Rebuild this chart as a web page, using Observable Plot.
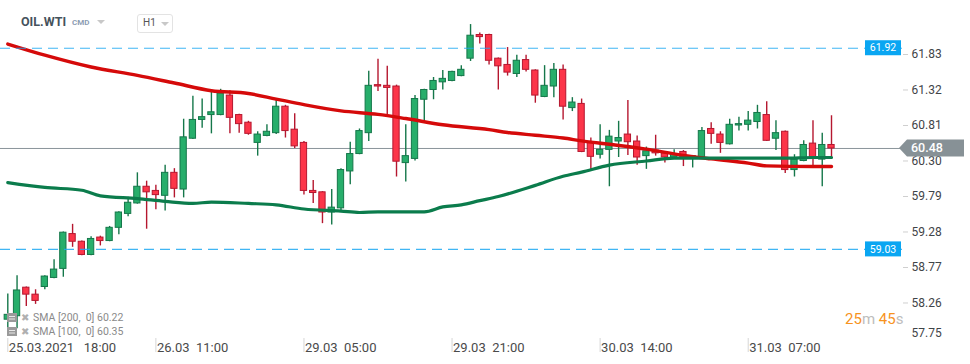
<!DOCTYPE html>
<html>
<head>
<meta charset="utf-8">
<script src="https://cdn.jsdelivr.net/npm/d3@7"></script>
<script src="https://cdn.jsdelivr.net/npm/@observablehq/plot@0.6"></script>
<style>
  html, body { margin: 0; padding: 0; background: #fff; }
  #wrap { position: relative; width: 970px; height: 364px; overflow: hidden; font-family: Roboto, sans-serif; }
  #chart { position: absolute; left: 0; top: 0; }
  .ov { position: absolute; white-space: pre; }
  .tri { position: absolute; width: 0; height: 0; border-left: 4px solid transparent; border-right: 4px solid transparent; border-top: 4px solid #c8c8c8; }
</style>
</head>
<body>
<div id="wrap">
  <div id="chart"></div>
  <div class="ov" style="left:21px;top:14px;font-weight:bold;font-size:12.5px;color:#46525c;">OIL.WTI</div>
  <div class="ov" style="left:72px;top:18px;font-weight:bold;font-size:8px;color:#8c9db3;">CMD</div>
  <div class="tri" style="left:97px;top:20px;"></div>
  <div class="ov" style="left:137px;top:14px;width:34px;height:17px;border:1px solid #e3e3e3;border-radius:3px;"></div>
  <div class="ov" style="left:143px;top:17px;font-size:10px;color:#555;">H1</div>
  <div class="tri" style="left:161px;top:22px;"></div>
  <div class="ov" id="leg1" style="left:7px;top:311px;font-size:10.5px;color:#8a8a8a;"></div>
  <div class="ov" id="leg2" style="left:7px;top:325px;font-size:10.5px;color:#8a8a8a;"></div>
  <div class="ov" style="left:845px;top:310px;font-size:15px;"><span style="color:#f7931e">25</span><span style="color:#bdbdbd">m </span><span style="color:#f7931e">45</span><span style="color:#bdbdbd">s</span></div>
</div>
<script>
// ---- data ----
const opens  = [58.02,58.07,58.48,58.38,58.49,58.62,58.75,59.25,59.14,58.95,59.20,59.15,59.34,59.54,59.69,59.93,59.87,59.80,60.13,59.89,
                60.62,60.89,60.96,60.96,61.24,60.96,60.85,60.56,60.66,60.70,61.08,60.75,60.56,59.87,59.85,59.56,59.62,60.15,60.40,60.70,
                61.39,61.38,61.37,60.27,60.33,61.18,61.32,61.43,61.45,61.52,61.77,62.11,62.11,61.77,61.68,61.55,61.75,61.60,61.22,61.37,
                61.61,61.06,61.12,60.57,60.39,60.46,60.58,60.68,60.58,60.37,60.45,60.41,60.35,60.43,60.33,60.35,60.76,60.68,60.54,60.81,
                60.82,60.86,60.96,60.62,60.72,60.17,60.30,60.55,60.32,60.53];
const highs  = [58.39,58.65,58.49,58.45,58.65,58.88,59.28,59.39,59.15,59.21,59.22,59.36,59.57,59.78,60.13,60.01,59.95,60.24,60.19,60.90,
                61.23,61.19,61.31,61.33,61.31,60.97,60.87,60.72,60.82,61.17,61.10,60.98,60.58,60.02,59.86,59.89,60.19,60.57,60.76,61.59,
                61.76,61.66,61.39,60.82,61.24,61.33,61.50,61.60,61.59,61.67,62.26,62.14,62.12,61.78,61.93,61.82,61.82,61.61,61.67,61.70,
                61.68,61.21,61.19,60.63,60.82,60.74,60.87,61.17,60.66,60.50,60.67,60.42,60.46,60.45,60.38,60.78,60.85,60.72,60.90,60.93,
                61.01,61.10,61.15,60.88,60.73,60.39,60.59,60.88,60.70,60.95];
const lows   = [57.82,57.89,58.21,58.24,58.45,58.61,58.63,59.06,58.94,58.94,59.08,59.14,59.24,59.50,59.68,59.32,59.60,59.58,59.77,59.77,
                60.61,60.77,60.69,60.95,60.69,60.70,60.67,60.37,60.65,60.68,60.63,60.48,59.81,59.69,59.40,59.38,59.59,59.96,60.39,60.58,
                61.30,60.95,60.07,60.00,60.30,60.84,61.18,61.32,61.44,61.51,61.73,61.98,61.68,61.32,61.52,61.50,61.58,61.13,61.21,61.21,
                60.89,61.01,60.42,60.17,60.33,59.93,60.35,60.38,60.24,60.18,60.37,60.27,60.32,60.22,60.20,60.34,60.54,60.41,60.53,60.73,
                60.73,60.76,60.58,60.45,60.12,60.07,60.29,60.22,59.93,60.35];
const closes = [58.09,58.44,58.38,58.29,58.64,58.74,59.27,59.14,58.95,59.18,59.15,59.34,59.56,59.70,59.93,59.85,59.81,60.13,59.90,60.64,
                60.89,60.93,61.00,61.27,60.92,60.83,60.69,60.68,60.72,61.08,60.73,60.51,59.87,59.84,59.56,59.63,60.17,60.40,60.73,61.38,
                61.37,61.35,60.29,60.37,61.19,61.32,61.45,61.48,61.58,61.61,62.10,62.08,61.74,61.66,61.57,61.74,61.61,61.24,61.38,61.61,
                61.08,61.14,60.43,60.36,60.46,60.65,60.63,60.57,60.35,60.44,60.41,60.35,60.39,60.35,60.37,60.73,60.69,60.56,60.82,60.83,
                60.88,60.99,60.59,60.70,60.17,60.32,60.53,60.33,60.53,60.48];

// SMA lines (values read at these bar positions)
const sma200Idx = [0,4,9,14,18,22,26,29,32,36,40,43,47,52,54,57,60,62,65,69,73,76,80,82,87,89];
const sma200    = [61.98,61.82,61.65,61.53,61.42,61.31,61.27,61.19,61.11,61.02,60.97,60.91,60.82,60.75,60.71,60.67,60.63,60.59,60.54,60.47,60.38,60.33,60.27,60.23,60.22,60.22];
const sma100Idx = [0,4,8,10,14,17,20,22,26,29,32,36,38,40,45,47,49,51,53,57,60,62,65,69,72,76,80,84,87,89];
const sma100    = [59.99,59.92,59.88,59.80,59.76,59.72,59.69,59.71,59.69,59.67,59.61,59.58,59.56,59.57,59.57,59.64,59.67,59.73,59.79,59.95,60.08,60.14,60.24,60.30,60.34,60.34,60.34,60.34,60.35,60.35];

const yTicks = [57.75,58.26,58.77,59.28,59.79,60.30,60.81,61.32,61.83];
const xTickIdx = [0,16,32,48,64,80];
const xTickLabels = ["25.03.2021\u00a0\u00a0 18:00","26.03\u00a0 11:00","29.03\u00a0 05:00","29.03\u00a0 21:00","30.03\u00a0 14:00","31.03\u00a0 07:00"];
const levelValues = [61.92, 59.03];
const currentPrice = 60.48;
const legendRows = [["SMA [200,  0]", "60.22"], ["SMA [100,  0]", "60.35"]];

// ---- build ----
const candles = opens.map((o, i) => ({i, o, h: highs[i], l: lows[i], c: closes[i], up: closes[i] >= o}));
const s200 = sma200Idx.map((i, k) => ({i, v: sma200[k]}));
const s100 = sma100Idx.map((i, k) => ({i, v: sma100[k]}));

const GREEN_F = "#27ae6b", GREEN_S = "#15774a", RED_F = "#fc3549", RED_S = "#b5172f";

function priceLabels(index, scales, values, dims) {
  const g = d3.create("svg:g").attr("font-family", "Roboto, sans-serif");
  const right = dims.width - dims.marginRight;
  for (const v of levelValues) {
    const y = scales.y(v);
    g.append("rect").attr("x", right - 37).attr("y", y - 7.5).attr("width", 36).attr("height", 15).attr("fill", "#0aa6f2");
    g.append("text").attr("x", right - 19).attr("y", y).attr("dy", "0.35em").attr("text-anchor", "middle")
      .attr("fill", "#fff").attr("font-size", 10.5).text(v.toFixed(2));
  }
  const y = scales.y(currentPrice);
  const pts = [[right - 3, y], [right + 5, y - 8.5], [right + 62, y - 8.5], [right + 62, y + 8.5], [right + 5, y + 8.5]];
  g.append("polygon").attr("points", pts.map(p => p.join(",")).join(" ")).attr("fill", "#879196");
  g.append("text").attr("x", right + 9).attr("y", y).attr("dy", "0.36em").attr("text-anchor", "start").attr("fill", "#fff")
    .attr("font-size", 12.5).attr("font-weight", 500).text(currentPrice.toFixed(2));
  return g.node();
}

const chart = Plot.plot({
  width: 970,
  height: 364,
  marginLeft: 0, marginTop: 0, marginRight: 68, marginBottom: 26,
  x: {type: "linear", domain: [0, 89], range: [7.3, 831], axis: null, label: null},
  y: {domain: [57.75, 62.6], range: [338, 0.4], axis: null, label: null},
  style: {fontFamily: "Roboto, sans-serif", background: "#fff", overflow: "visible"},
  marks: [
    Plot.ruleY([currentPrice], {stroke: "#8a959b", strokeWidth: 1}),
    Plot.ruleX(candles, {x: "i", y1: "l", y2: "h", stroke: d => d.up ? GREEN_S : RED_S, strokeWidth: 1.4}),
    Plot.rect(candles, {x1: d => d.i - 0.34, x2: d => d.i + 0.34, y1: "o", y2: "c",
      fill: d => d.up ? GREEN_F : RED_F, stroke: d => d.up ? GREEN_S : RED_S, strokeWidth: 1}),
    Plot.line(s200, {x: "i", y: "v", stroke: "#d50a0a", strokeWidth: 3.4, curve: "monotone-x", strokeLinejoin: "round"}),
    Plot.line(s100, {x: "i", y: "v", stroke: "#0b7c4c", strokeWidth: 3.2, curve: "monotone-x", strokeLinejoin: "round"}),
    Plot.ruleY(levelValues, {stroke: "#1fa9f2", strokeWidth: 1.2, strokeDasharray: "10,6", strokeOpacity: 0.85}),
    Plot.axisY(yTicks.filter(t => t > 58), {anchor: "right", tickSize: 5, tickPadding: 4, tickFormat: d3.format(".2f"),
      fontSize: 12, fill: "#3f4448", stroke: "#cfcfcf", label: null}),
    Plot.text([yTicks[0]], {y: d => d, frameAnchor: "right", dx: 9, dy: -5, textAnchor: "start",
      text: d => d.toFixed(2), fontSize: 12, fill: "#3f4448"}),
    Plot.axisX(xTickIdx, {anchor: "bottom", tickSize: 14, tickFormat: () => "", stroke: "#d6d6d6", label: null}),
    Plot.text(xTickIdx, {x: d => d, frameAnchor: "bottom", dy: 9, dx: 1, textAnchor: "start", lineAnchor: "middle",
      text: (d, k) => xTickLabels[k], fontSize: 13, fill: "#4a4a4a"}),
    priceLabels
  ]
});
document.getElementById("chart").appendChild(chart);

// legend rows
const icon = '<svg width="10" height="9" style="vertical-align:-1px;margin-right:4px"><rect x="0" y="0" width="10" height="9" fill="#9a9a9a"/><rect x="2" y="3" width="6" height="1" fill="#e8e8e8"/><rect x="2" y="5.5" width="6" height="1" fill="#e8e8e8"/></svg>';
const xg = '<span style="color:#b0b0b0;font-size:10px;margin-right:4px">\u2716</span>';
legendRows.forEach((r, k) => {
  document.getElementById("leg" + (k + 1)).innerHTML = icon + xg + r[0] + " " + r[1];
});
</script>
</body>
</html>
